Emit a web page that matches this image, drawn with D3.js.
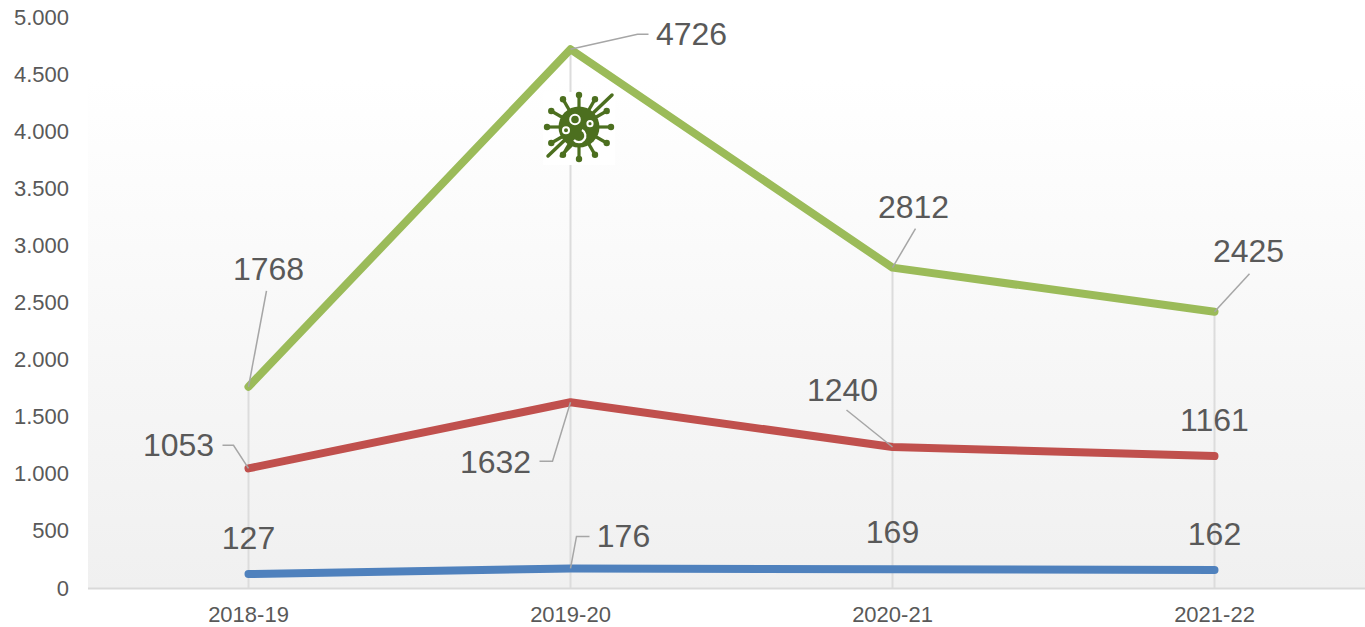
<!DOCTYPE html>
<html>
  <head>
    <meta charset="UTF-8">
    <title>Line chart 2018-19 to 2021-22</title>
    <script src="https://cdnjs.cloudflare.com/ajax/libs/d3/7.8.5/d3.min.js"></script>
    <style>
      html, body { margin: 0; padding: 0; background: #fff; }
      svg { display: block; font-family: "Liberation Sans", Arial, sans-serif; }
    </style>
  </head>
  <body>
    <script>
        var w = 1365;
        var h = 627;

        var years = ["2018-19", "2019-20", "2020-21", "2021-22"];
        var greenValues = [1768, 4726, 2812, 2425];
        var redValues = [1053, 1632, 1240, 1161];
        var blueValues = [127, 176, 169, 162];
        var yTicks = [0, 500, 1000, 1500, 2000, 2500, 3000, 3500, 4000, 4500, 5000];

        var series = [
            {values: blueValues, color: "#4F81BD"},
            {values: redValues, color: "#C0504D"},
            {values: greenValues, color: "#9BBB59"}
        ];

        // label placement relative to the point: text centre/baseline, then leader bends
        var blueLabels = [
            {dx: 0, dy: -25},
            {dx: 53, dy: -21, leader: [[6, -32], [19, -32]]},
            {dx: 0, dy: -26},
            {dx: 0, dy: -25}
        ];
        var redLabels = [
            {dx: -70, dy: -12, leader: [[-15, -23], [-26, -23]]},
            {dx: -75, dy: 71, leader: [[-18, 59], [-31, 59]]},
            {dx: -50, dy: -46, leader: [[-46, -37]]},
            {dx: 0, dy: -25}
        ];
        var greenLabels = [
            {dx: 20, dy: -107, leader: [[18, -96]]},
            {dx: 121, dy: -4, leader: [[67, -15], [78, -15]]},
            {dx: 21, dy: -50, leader: [[23, -39]]},
            {dx: 34, dy: -50, leader: [[35, -38]]}
        ];

        var x = d3.scaleBand().domain(years).range([87.5, 1375.5]);
        var y = d3.scaleLinear().domain([0, 5000]).range([588.5, 18]);
        function px(i){ return x(years[i]) + x.bandwidth() / 2; }

        var dotted = d3.formatLocale({decimal: ",", thousands: ".", grouping: [3], currency: ["", ""]}).format(",d");

        var svg = d3.select("body").append("svg").attr("width", w).attr("height", h);

        //Plot background
        var grad = svg.append("defs").append("linearGradient")
            .attr("id", "plotBg").attr("x1", 0).attr("x2", 0).attr("y1", 0).attr("y2", 1);
        grad.append("stop").attr("offset", 0).attr("stop-color", "#ffffff");
        grad.append("stop").attr("offset", 1).attr("stop-color", "#f0f0f0");
        svg.append("rect")
            .attr("x", 88).attr("y", 80).attr("width", w - 88).attr("height", 508)
            .attr("fill", "url(#plotBg)");

        //Drop lines
        svg.selectAll(".drop")
            .data(years)
            .enter()
            .append("line")
            .attr("class", "drop")
            .attr("x1", function(d){ return x(d) + x.bandwidth() / 2; })
            .attr("x2", function(d){ return x(d) + x.bandwidth() / 2; })
            .attr("y1", function(d, i){ return y(greenValues[i]); })
            .attr("y2", y(0))
            .attr("stroke", "#dcdcdc")
            .attr("stroke-width", 2);

        //Axes
        var xAxis = svg.append("g")
            .attr("transform", "translate(0," + y(0) + ")")
            .call(d3.axisBottom(x).tickSize(0).tickPadding(18));
        xAxis.select(".domain").attr("stroke", "#d9d9d9").attr("stroke-width", 2)
            .attr("d", "M88,0H" + w);
        xAxis.selectAll("text").attr("font-size", "22px").attr("fill", "#595959")
            .attr("font-family", "Liberation Sans");

        var yAxis = svg.append("g")
            .attr("transform", "translate(89,-0.5)")
            .call(d3.axisLeft(y).tickValues(yTicks).tickFormat(dotted).tickSize(0).tickPadding(20));
        yAxis.select(".domain").remove();
        yAxis.selectAll("text").attr("font-size", "22px").attr("fill", "#595959")
            .attr("font-family", "Liberation Sans");

        //Series lines
        var line = d3.line()
            .x(function(d, i){ return px(i); })
            .y(function(d){ return y(d); });

        svg.selectAll(".series")
            .data(series)
            .enter()
            .append("path")
            .attr("class", "series")
            .attr("d", function(d){ return line(d.values); })
            .attr("fill", "none")
            .attr("stroke", function(d){ return d.color; })
            .attr("stroke-width", 8)
            .attr("stroke-linecap", "round")
            .attr("stroke-linejoin", "round");

        //Data labels and leaders
        [[blueValues, blueLabels], [redValues, redLabels], [greenValues, greenLabels]].forEach(function(s){
            s[0].forEach(function(v, i){
                var p = [px(i), y(v)];
                var lab = s[1][i];
                if(lab.leader){
                    var pts = [[0, 0]].concat(lab.leader).map(function(o){ return [p[0] + o[0], p[1] + o[1]]; });
                    svg.append("path")
                        .attr("d", d3.line()(pts))
                        .attr("fill", "none")
                        .attr("stroke", "#a6a6a6")
                        .attr("stroke-width", 1.5);
                }
                svg.append("text")
                    .attr("x", p[0] + lab.dx)
                    .attr("y", p[1] + lab.dy)
                    .attr("text-anchor", "middle")
                    .attr("font-size", "32px")
                    .attr("fill", "#595959")
                    .text(v);
            });
        });

        //Virus icon
        var virusColor = "#4C6F1F";
        var icon = svg.append("g").attr("transform", "translate(579,127)");
        svg.insert("rect", "path.series")
            .attr("x", 543).attr("y", 92).attr("width", 72).attr("height", 73)
            .attr("fill", "#ffffff");

        d3.range(12).forEach(function(k){
            var a = k * Math.PI / 6;
            var sx = Math.sin(a), sy = -Math.cos(a);
            icon.append("line")
                .attr("x1", sx * 18).attr("y1", sy * 18)
                .attr("x2", sx * 31).attr("y2", sy * 31)
                .attr("stroke", virusColor).attr("stroke-width", 3.2);
            icon.append("circle")
                .attr("cx", sx * 32).attr("cy", sy * 32).attr("r", 3.2)
                .attr("fill", virusColor);
        });
        icon.append("line")
            .attr("x1", -31).attr("y1", 29).attr("x2", 33).attr("y2", -32)
            .attr("stroke", virusColor).attr("stroke-width", 3.5).attr("stroke-linecap", "round");
        icon.append("line")
            .attr("x1", -18).attr("y1", 29).attr("x2", -8).attr("y2", 19)
            .attr("stroke", virusColor).attr("stroke-width", 3).attr("stroke-linecap", "round");
        icon.append("circle").attr("r", 20.5).attr("fill", virusColor);

        var holes = [[-4, -7.5, 4.8], [-13, 3.3, 3], [11, -3.3, 2.6]];
        holes.forEach(function(c){
            icon.append("circle")
                .attr("cx", c[0]).attr("cy", c[1]).attr("r", c[2])
                .attr("fill", "none").attr("stroke", "#ffffff").attr("stroke-width", 2);
        });
        icon.append("path")
            .attr("d", "M3,3 A6.5,6.5 0 1 1 -5,13")
            .attr("fill", "none").attr("stroke", "#ffffff").attr("stroke-width", 2.2);
    </script>
  </body>
</html>
